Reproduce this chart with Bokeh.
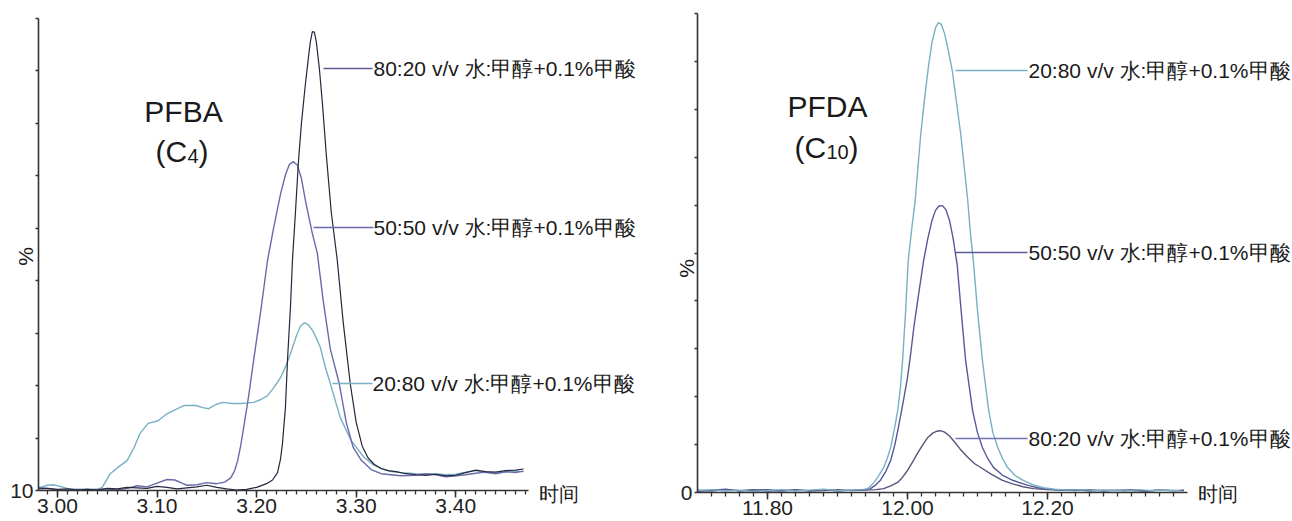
from bokeh.plotting import figure
from bokeh.layouts import row
from bokeh.models import FixedTicker, Label, Range1d
from bokeh.embed import file_html
from bokeh.resources import INLINE
import numpy as np

# ---------------- data: left panel (PFBA) ----------------
L_8020_t = [2.981, 2.99, 3.00, 3.01, 3.02, 3.03, 3.04, 3.05, 3.06, 3.07, 3.08, 3.09, 3.10, 3.11, 3.12,
            3.13, 3.14, 3.15, 3.16, 3.17, 3.18, 3.19, 3.20, 3.21, 3.216, 3.221, 3.224, 3.226, 3.229,
            3.231, 3.234, 3.236, 3.239, 3.242, 3.245, 3.249, 3.252, 3.254, 3.256, 3.258, 3.260, 3.263,
            3.266, 3.270, 3.275, 3.281, 3.287, 3.294, 3.300, 3.306, 3.312, 3.318, 3.325, 3.332, 3.34,
            3.35, 3.36, 3.37, 3.38, 3.39, 3.40, 3.41, 3.42, 3.43, 3.44, 3.45, 3.46, 3.468]
L_8020_v = [10.3, 10.4, 10.2, 10.3, 10.1, 10.2, 10.1, 10.4, 10.3, 10.6, 10.5, 10.4, 10.8, 10.6, 10.3,
            10.5, 10.7, 11.0, 10.6, 10.3, 10.1, 10.2, 10.6, 11.3, 12.0, 13.4, 16.0, 19.0, 26.0,
            34.8, 45.0, 53.9, 63.0, 72.7, 80.0, 87.5, 92.5, 95.6, 97.5, 97.4, 95.5, 90.5,
            84.0, 74.0, 63.0, 53.9, 42.0, 30.4, 23.0, 18.5, 16.2, 15.0, 14.2, 13.8, 13.6,
            13.2, 13.0, 12.9, 13.1, 12.8, 12.9, 13.4, 13.9, 13.6, 13.5, 13.8, 13.9, 14.1]

L_5050_t = [2.981, 2.99, 3.00, 3.01, 3.02, 3.03, 3.04, 3.05, 3.06, 3.07, 3.08, 3.09, 3.10, 3.11, 3.118,
            3.125, 3.13, 3.14, 3.15, 3.16, 3.168, 3.174, 3.178, 3.181, 3.184, 3.187, 3.192, 3.197,
            3.204, 3.211, 3.217, 3.224, 3.229, 3.233, 3.237, 3.241, 3.245, 3.249, 3.256, 3.261, 3.267,
            3.274, 3.283, 3.290, 3.297, 3.305, 3.315, 3.325, 3.335, 3.345, 3.36, 3.37, 3.38, 3.39,
            3.40, 3.41, 3.42, 3.43, 3.44, 3.45, 3.46, 3.468]
L_5050_v = [10.6, 10.4, 10.1, 10.0, 10.2, 10.1, 10.2, 10.3, 10.1, 10.4, 10.9, 10.7, 11.4, 12.1, 12.0,
            11.4, 11.0, 11.1, 11.5, 11.3, 11.6, 12.4, 13.8, 15.7, 18.5, 22.0, 28.0, 34.8,
            44.0, 53.9, 60.0, 66.5, 70.2, 72.2, 72.7, 72.0, 69.5, 65.3, 59.0, 55.2, 46.0,
            37.0, 30.4, 23.0, 18.2, 15.8, 14.0, 13.2, 13.0, 12.8, 12.9, 13.2, 13.0, 12.6,
            12.8, 13.0, 13.3, 13.5, 13.2, 13.6, 13.4, 13.7]

L_2080_t = [2.981, 2.99, 2.995, 3.00, 3.01, 3.02, 3.03, 3.04, 3.045, 3.053, 3.062, 3.070, 3.077, 3.083,
            3.091, 3.101, 3.109, 3.117, 3.127, 3.139, 3.146, 3.152, 3.159, 3.166, 3.175, 3.184, 3.191,
            3.197, 3.205, 3.211, 3.218, 3.224, 3.230, 3.234, 3.240, 3.244, 3.248, 3.252, 3.257, 3.264,
            3.269, 3.274, 3.284, 3.295, 3.308, 3.318, 3.325, 3.335, 3.345, 3.36, 3.37, 3.38, 3.39,
            3.40, 3.41, 3.42, 3.43, 3.44, 3.45, 3.46, 3.468]
L_2080_v = [10.5, 11.0, 11.1, 10.9, 10.4, 10.2, 10.3, 10.2, 10.6, 13.2, 14.6, 15.7, 18.2, 20.9,
            22.8, 23.3, 24.5, 25.3, 26.2, 26.2, 25.8, 25.6, 26.4, 26.8, 26.6, 26.6, 26.7,
            26.8, 27.4, 28.1, 29.8, 31.5, 34.0, 36.1, 39.5, 41.3, 42.0, 41.6, 40.3, 37.3,
            33.5, 30.4, 23.9, 19.5, 16.3, 14.8, 14.2, 13.6, 13.4, 13.2, 13.1, 13.2, 13.0,
            13.1, 13.5, 13.8, 13.4, 13.3, 13.5, 13.7, 13.6]

# ---------------- data: right panel (PFDA) ----------------
R_2080_t = [11.70, 11.72, 11.74, 11.76, 11.78, 11.80, 11.82, 11.84, 11.86, 11.88, 11.90, 11.92, 11.935,
            11.943, 11.951, 11.958, 11.966, 11.971, 11.976, 11.981, 11.986, 11.990, 11.993, 11.997,
            12.001, 12.006, 12.011, 12.015, 12.019, 12.025, 12.030, 12.035, 12.040, 12.044, 12.048,
            12.053, 12.058, 12.064, 12.070, 12.076, 12.081, 12.086, 12.090, 12.094, 12.100, 12.107,
            12.116, 12.122, 12.129, 12.136, 12.143, 12.154, 12.166, 12.18, 12.194, 12.21, 12.23, 12.25,
            12.27, 12.29, 12.31, 12.33, 12.35, 12.37, 12.39]
R_2080_v = [0.4, 0.6, 0.3, 0.5, 0.2, 0.4, 0.6, 0.3, 0.5, 0.7, 0.4, 0.5, 0.6,
            0.8, 1.9, 3.3, 5.2, 7.1, 9.4, 13.0, 17.1, 22.0, 27.6, 37.0,
            48.4, 55.0, 61.0, 68.0, 74.9, 83.0, 89.0, 94.0, 97.0, 98.1, 97.8,
            95.8, 92.5, 88.0, 81.5, 74.9, 68.0, 61.0, 54.0, 48.4, 38.0, 27.6,
            17.1, 12.5, 9.4, 7.0, 5.2, 3.5, 2.5, 1.6, 1.0, 0.7, 0.5, 0.6,
            0.4, 0.5, 0.3, 0.6, 0.4, 0.5, 0.4]

R_5050_t = [11.70, 11.72, 11.74, 11.76, 11.78, 11.80, 11.82, 11.84, 11.86, 11.88, 11.90, 11.92, 11.94,
            11.947, 11.954, 11.961, 11.969, 11.976, 11.982, 11.987, 11.994, 12.000, 12.005, 12.009,
            12.016, 12.023, 12.029, 12.035, 12.040, 12.045, 12.050, 12.055, 12.060, 12.065, 12.071,
            12.076, 12.083, 12.093, 12.100, 12.107, 12.115, 12.123, 12.136, 12.151, 12.17, 12.186,
            12.20, 12.22, 12.24, 12.26, 12.28, 12.30, 12.32, 12.34, 12.36, 12.38, 12.395]
R_5050_v = [0.2, 0.5, 0.7, 0.3, 0.5, 0.6, 0.3, 0.5, 0.4, 0.6, 0.3, 0.5, 0.6,
            0.8, 1.5, 2.5, 4.4, 6.7, 10.0, 13.6, 19.0, 24.0, 29.5, 34.4,
            41.5, 48.4, 53.0, 56.8, 58.9, 59.8, 59.9, 59.0, 56.8, 53.2, 47.5,
            39.0, 27.6, 17.1, 12.5, 9.4, 7.0, 5.2, 3.6, 2.5, 1.6, 1.0,
            0.7, 0.5, 0.6, 0.3, 0.5, 0.4, 0.6, 0.3, 0.5, 0.4, 0.5]

R_8020_t = [11.70, 11.72, 11.74, 11.76, 11.78, 11.80, 11.82, 11.84, 11.86, 11.88, 11.90, 11.92, 11.94,
            11.955, 11.966, 11.976, 11.986, 11.993, 12.000, 12.007, 12.014, 12.022, 12.029, 12.036,
            12.042, 12.047, 12.053, 12.060, 12.067, 12.075, 12.085, 12.096, 12.108, 12.12, 12.135,
            12.15, 12.165, 12.18, 12.20, 12.22, 12.24, 12.26, 12.28, 12.30, 12.32, 12.34, 12.36,
            12.38, 12.395]
R_8020_v = [0.5, 0.3, 0.6, 0.4, 0.6, 0.3, 0.4, 0.6, 0.3, 0.4, 0.6, 0.4, 0.5,
            0.6, 0.8, 1.4, 2.1, 3.2, 4.6, 6.3, 8.1, 10.0, 11.5, 12.4,
            12.8, 12.9, 12.6, 11.8, 10.6, 9.1, 7.5, 6.0, 4.9, 3.8, 2.6,
            1.8, 1.2, 0.8, 0.6, 0.5, 0.4, 0.6, 0.3, 0.5, 0.4, 0.3, 0.5,
            0.4, 0.4]

# ---------------- tick labels / texts ----------------
L_xticks = [3.00, 3.10, 3.20, 3.30, 3.40]
L_xlabels = ["3.00", "3.10", "3.20", "3.30", "3.40"]
R_xticks = [11.80, 12.00, 12.20]
R_xlabels = ["11.80", "12.00", "12.20"]
L_yticks = [10, 20, 30, 40, 50, 60, 70, 80, 90, 100]
R_yticks = [0, 10, 20, 30, 40, 50, 60, 70, 80, 90, 100]
LBL_8020 = "80:20 v/v 水:甲醇+0.1%甲酸"
LBL_5050 = "50:50 v/v 水:甲醇+0.1%甲酸"
LBL_2080 = "20:80 v/v 水:甲醇+0.1%甲酸"
X_TITLE = "时间"
Y_TITLE = "%"

FONT = "Liberation Sans"
C_DARK = "#26263e"
C_PURP = "#6a6aaa"
C_TEAL = "#78b0c4"
C_AXIS = "#333333"
LBL_SIZE = "21px"

H = 521


class Mapper:
    """page pixel -> data coordinate for a figure whose frame covers the whole figure"""
    def __init__(self, xr, yr, fl, fw):
        self.xr, self.yr, self.fl, self.fw = xr, yr, fl, fw

    def x(self, px):
        return self.xr[0] + (px - self.fl) / self.fw * (self.xr[1] - self.xr[0])

    def y(self, py):
        return self.yr[1] - py / H * (self.yr[1] - self.yr[0])


def make_fig(width, xr, xbounds, yr, ybounds, xticks, xlabels, minor, yticks, ylabel0):
    p = figure(width=width, height=H, x_range=Range1d(*xr), y_range=Range1d(*yr),
               output_backend="svg", toolbar_location=None,
               min_border_left=0, min_border_right=0, min_border_top=0, min_border_bottom=0)
    p.outline_line_color = None
    p.grid.visible = False
    p.background_fill_color = "white"
    xa = p.xaxis[0]
    xa.fixed_location = ybounds[0]
    xa.bounds = xbounds
    xa.ticker = FixedTicker(ticks=xticks, minor_ticks=minor)
    xa.major_label_overrides = {t: s for t, s in zip(xticks, xlabels)}
    xa.major_label_text_font = FONT
    xa.major_label_text_font_size = "21px"
    xa.major_label_text_color = "#222222"
    xa.major_label_standoff = 1
    xa.axis_line_color = C_AXIS
    xa.axis_line_width = 1.6
    xa.major_tick_line_color = C_AXIS
    xa.minor_tick_line_color = C_AXIS
    xa.major_tick_line_width = 1.5
    xa.minor_tick_line_width = 1.3
    xa.major_tick_out = 7
    xa.major_tick_in = 0
    xa.minor_tick_out = 4
    xa.minor_tick_in = 0
    ya = p.yaxis[0]
    ya.fixed_location = xbounds[0]
    ya.bounds = ybounds
    ya.ticker = FixedTicker(ticks=yticks, minor_ticks=[])
    ya.major_label_overrides = {t: (ylabel0 if i == 0 else "") for i, t in enumerate(yticks)}
    ya.major_label_text_font = FONT
    ya.major_label_text_font_size = "21px"
    ya.major_label_text_color = "#222222"
    ya.major_label_standoff = 2
    ya.axis_line_color = C_AXIS
    ya.axis_line_width = 1.6
    ya.major_tick_line_color = C_AXIS
    ya.major_tick_line_width = 1.3
    ya.major_tick_out = 3
    ya.major_tick_in = 0
    return p


def add_text(p, m, px, py, text, size, color="#1a1a1a", align="left", baseline="middle", angle=0.0):
    p.add_layout(Label(x=m.x(px), y=m.y(py), text=text, text_font=FONT, text_font_size=size,
                       text_color=color, text_align=align, text_baseline=baseline, angle=angle))


def leader(p, m, x0, x1, py, color):
    p.segment(x0=[m.x(x0)], y0=[m.y(py)], x1=[m.x(x1)], y1=[m.y(py)], line_color=color, line_width=1.4)


# ---------------- left figure ----------------
# axis frame: x 38..528 px  <->  2.981..3.473 min ; y 490..18 px <-> 10..100 %
L_PXU = 995.9
L_YPX = 90 / 472
LXR = (2.981 - 38 / L_PXU, 2.981 + (650 - 38) / L_PXU)
LYR = (10 - (H - 490) * L_YPX, 100 + 18 * L_YPX)
left_minor = [round(v, 3) for v in np.arange(2.99, 3.471, 0.01)]
pl = make_fig(650, LXR, (2.981, 3.473), LYR, (10, 100), L_xticks, L_xlabels, left_minor,
              L_yticks, "10")
ml = Mapper(LXR, LYR, 0, 650)

pl.line(L_2080_t, L_2080_v, line_color=C_TEAL, line_width=1.4)
pl.line(L_5050_t, L_5050_v, line_color=C_PURP, line_width=1.4)
pl.line(L_8020_t, L_8020_v, line_color=C_DARK, line_width=1.2)

leader(pl, ml, 323, 372, 68, "#5c5c92")
leader(pl, ml, 313, 373, 227, C_PURP)
leader(pl, ml, 332, 372, 383, C_TEAL)
add_text(pl, ml, 373, 68, LBL_8020, LBL_SIZE)
add_text(pl, ml, 373, 227, LBL_5050, LBL_SIZE)
add_text(pl, ml, 372, 383, LBL_2080, LBL_SIZE)

add_text(pl, ml, 183, 111, "PFBA", "30px", align="center", baseline="alphabetic")
add_text(pl, ml, 155, 151, "(C", "30px", baseline="alphabetic")
add_text(pl, ml, 187, 155, "4", "20px", baseline="alphabetic")
add_text(pl, ml, 198, 151, ")", "30px", baseline="alphabetic")
add_text(pl, ml, 538, 493, X_TITLE, "20px")
add_text(pl, ml, 25, 256, Y_TITLE, "21px", align="center", angle=np.pi / 2)

# ---------------- right figure ----------------
# axis frame: x 697..1187 px <-> 11.70..12.40 min ; y 492..13 px <-> 0..100 %
R_PXU = 700.0
R_YPX = 100 / 479
RXR = (11.70 - 47 / R_PXU, 11.70 + (642 - 47) / R_PXU)
RYR = (0 - (H - 492) * R_YPX, 100 + 13 * R_YPX)
right_minor = [round(v, 3) for v in np.arange(11.72, 12.391, 0.02)]
pr = make_fig(642, RXR, (11.70, 12.40), RYR, (0, 100), R_xticks, R_xlabels, right_minor,
              R_yticks, "0")
mr = Mapper(RXR, RYR, 650, 642)

pr.line(R_8020_t, R_8020_v, line_color="#55557a", line_width=1.4)
pr.line(R_5050_t, R_5050_v, line_color="#58589a", line_width=1.4)
pr.line(R_2080_t, R_2080_v, line_color=C_TEAL, line_width=1.4)

leader(pr, mr, 955, 1027, 70, C_TEAL)
leader(pr, mr, 955, 1027, 252, "#5a5a98")
leader(pr, mr, 955, 1027, 438, "#7272b4")
add_text(pr, mr, 1028, 70, LBL_2080, LBL_SIZE)
add_text(pr, mr, 1028, 252, LBL_5050, LBL_SIZE)
add_text(pr, mr, 1028, 438, LBL_8020, LBL_SIZE)

add_text(pr, mr, 827, 106, "PFDA", "30px", align="center", baseline="alphabetic")
add_text(pr, mr, 794, 147, "(C", "30px", baseline="alphabetic")
add_text(pr, mr, 826, 151, "10", "20px", baseline="alphabetic")
add_text(pr, mr, 848, 147, ")", "30px", baseline="alphabetic")
add_text(pr, mr, 1197, 493, X_TITLE, "20px")
add_text(pr, mr, 686, 268, Y_TITLE, "21px", align="center", angle=np.pi / 2)

layout = row(pl, pr)
open("out.html", "w").write(file_html(layout, INLINE))
